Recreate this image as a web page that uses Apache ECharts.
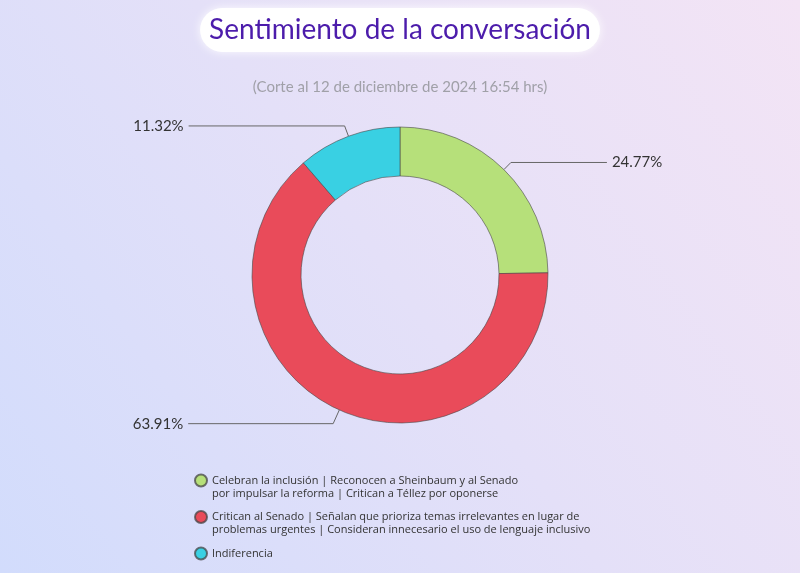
<!DOCTYPE html>
<html>
<head>
<meta charset="utf-8">
<script src="https://cdn.jsdelivr.net/npm/echarts@6/dist/echarts.min.js"></script>
<style>html,body{margin:0;padding:0;}#c{width:800px;height:573px;}</style>
</head>
<body>
<div id="c"></div>
<script>
const categories = [
  "Celebran la inclusión | Reconocen a Sheinbaum y al Senado\npor impulsar la reforma | Critican a Téllez por oponerse",
  "Critican al Senado | Señalan que prioriza temas irrelevantes en lugar de\nproblemas urgentes | Consideran innecesario el uso de lenguaje inclusivo",
  "Indiferencia"
];
const values = [24.77, 63.91, 11.32];
const colors = ["#b6e07a", "#e94b5a", "#39d0e3"];
const titleText = "Sentimiento de la conversación";
const subtitleText = "(Corte al 12 de diciembre de 2024 16:54 hrs)";

// label-line geometry per slice (style only)
const lineLen = [{length: 10, length2: 96}, {length: 15, length2: 145}, {length: 11, length2: 156}];

const chart = echarts.init(document.getElementById('c'));
const font = 'Lato, "Noto Sans", sans-serif';
const lfont = '"Open Sans", "Noto Sans", sans-serif';
chart.setOption({
  backgroundColor: {
    type: 'linear', x: 0, y: 1, x2: 1, y2: 0,
    colorStops: [
      {offset: 0, color: '#d2dcfc'},
      {offset: 0.5, color: '#e4e0f8'},
      {offset: 1, color: '#f3e4f5'}
    ]
  },
  title: [
    {
      text: titleText, left: 'center', top: 8,
      backgroundColor: '#ffffff', borderRadius: 22,
      padding: [8, 9, 8, 9],
      shadowColor: 'rgba(255,255,255,0.9)', shadowBlur: 10,
      textStyle: {fontFamily: font, fontSize: 28, fontWeight: 'normal', color: '#4c1cab'}
    },
    {
      text: subtitleText, left: 'center', top: 75,
      textStyle: {fontFamily: font, fontSize: 15, fontWeight: 'normal', color: '#a0a0a8'}
    }
  ],
  legend: {
    orient: 'vertical', left: 194, top: 461, padding: 0, height: 112,
    icon: 'circle', itemWidth: 12, itemHeight: 12, itemGap: -2.5,
    textStyle: {fontFamily: lfont, fontSize: 11, color: '#333', lineHeight: 13},
    // pad text so the marker sits beside the first line of each entry
    formatter: name => name.indexOf('\n') >= 0 ? '\n' + name : '\n' + name + '\n',
    data: categories
  },
  series: [{
    type: 'pie',
    center: [400, 275],
    radius: [99, 148],
    startAngle: 90,
    clockwise: true,
    avoidLabelOverlap: false,
    itemStyle: {borderColor: 'rgba(70,70,70,0.75)', borderWidth: 0.8},
    label: {
      show: true,
      position: 'outside',
      distanceToLabelLine: 5,
      formatter: p => p.value.toFixed(2) + '%',
      fontFamily: font, fontSize: 15, color: '#333'
    },
    labelLine: {
      show: true,
      lineStyle: {color: '#666', width: 1}
    },
    emphasis: {disabled: true},
    data: categories.map((c, i) => ({
      name: c, value: values[i],
      itemStyle: {color: colors[i]},
      labelLine: lineLen[i]
    }))
  }]
});
</script>
</body>
</html>
